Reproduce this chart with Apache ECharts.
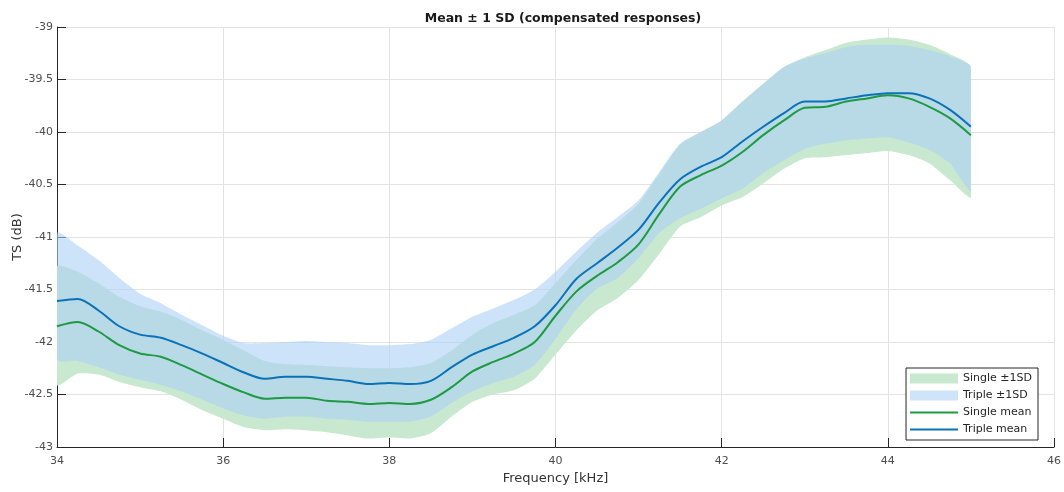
<!DOCTYPE html>
<html>
<head>
<meta charset="utf-8">
<script src="https://cdn.jsdelivr.net/npm/echarts@6/dist/echarts.min.js"></script>
<style>
html,body{margin:0;padding:0;background:#fff;}
#c{width:1064px;height:492px;}
</style>
</head>
<body>
<div id="c"></div>
<script>
// Frequency grid (kHz)
const freq = [34,34.25,34.5,34.75,35,35.25,35.5,35.75,36,36.25,36.5,36.75,37,37.25,37.5,37.75,38,38.25,38.5,38.75,39,39.25,39.5,39.75,40,40.25,40.5,40.75,41,41.25,41.5,41.75,42,42.25,42.5,42.75,43,43.25,43.5,43.75,44,44.25,44.5,44.75,45];

const singleMean = [-41.85,-41.81,-41.90,-42.03,-42.11,-42.14,-42.22,-42.31,-42.40,-42.48,-42.54,-42.53,-42.53,-42.56,-42.57,-42.59,-42.58,-42.59,-42.55,-42.43,-42.28,-42.19,-42.11,-42.00,-41.75,-41.52,-41.37,-41.24,-41.07,-40.78,-40.52,-40.41,-40.32,-40.19,-40.03,-39.89,-39.77,-39.76,-39.71,-39.68,-39.65,-39.68,-39.76,-39.87,-40.03];
const singleUpper = [-41.28,-41.33,-41.44,-41.57,-41.66,-41.71,-41.79,-41.89,-41.98,-42.08,-42.18,-42.21,-42.22,-42.23,-42.24,-42.25,-42.25,-42.24,-42.20,-42.08,-41.93,-41.82,-41.74,-41.65,-41.44,-41.22,-41.02,-40.86,-40.68,-40.40,-40.12,-40.00,-39.89,-39.71,-39.54,-39.38,-39.29,-39.22,-39.15,-39.12,-39.10,-39.12,-39.17,-39.26,-39.38];
const singleLower = [-42.41,-42.30,-42.31,-42.38,-42.43,-42.47,-42.55,-42.65,-42.73,-42.81,-42.84,-42.83,-42.84,-42.86,-42.89,-42.92,-42.91,-42.92,-42.87,-42.71,-42.57,-42.50,-42.46,-42.35,-42.12,-41.89,-41.70,-41.58,-41.41,-41.16,-40.90,-40.81,-40.70,-40.62,-40.49,-40.35,-40.25,-40.24,-40.22,-40.20,-40.18,-40.22,-40.30,-40.46,-40.62];

const tripleMean = [-41.61,-41.59,-41.70,-41.85,-41.93,-41.96,-42.03,-42.11,-42.20,-42.29,-42.35,-42.33,-42.33,-42.35,-42.37,-42.40,-42.39,-42.40,-42.37,-42.24,-42.12,-42.04,-41.96,-41.85,-41.65,-41.40,-41.25,-41.10,-40.93,-40.67,-40.45,-40.33,-40.24,-40.09,-39.95,-39.82,-39.71,-39.71,-39.68,-39.65,-39.63,-39.63,-39.68,-39.79,-39.95];
const tripleUpper = [-40.96,-41.08,-41.22,-41.39,-41.54,-41.63,-41.74,-41.84,-41.94,-42.01,-42.01,-42.00,-41.99,-42.00,-42.01,-42.03,-42.03,-42.02,-41.98,-41.87,-41.76,-41.68,-41.60,-41.50,-41.33,-41.14,-40.96,-40.81,-40.65,-40.38,-40.11,-40.00,-39.89,-39.71,-39.54,-39.38,-39.30,-39.25,-39.19,-39.17,-39.17,-39.18,-39.22,-39.28,-39.38];
const tripleLower = [-42.17,-42.18,-42.24,-42.31,-42.36,-42.41,-42.47,-42.55,-42.63,-42.70,-42.73,-42.71,-42.71,-42.73,-42.74,-42.76,-42.76,-42.76,-42.71,-42.58,-42.47,-42.39,-42.33,-42.22,-41.97,-41.69,-41.49,-41.39,-41.20,-40.96,-40.82,-40.73,-40.63,-40.54,-40.39,-40.27,-40.16,-40.11,-40.08,-40.06,-40.05,-40.10,-40.17,-40.30,-40.56];

const FONT = "'DejaVu Sans', 'Liberation Sans', Arial, sans-serif";
const pts = (ys) => freq.map((f, i) => [f, ys[i]]);
const bandData = (lo, hi) => freq.map((f, i) => [f, lo[i], hi[i]]);

const singleFill = 'rgb(200,232,207)';
const tripleBase = 'rgb(172,208,245)';
const tripleLegend = 'rgb(207,228,248)';
const greenLine = '#1e9a43';
const blueLine = '#0b72b8';
const SM = 0.3;
const lineIcon = 'path://M0,0 L48,0 Z M0,4 L48,4 L48,6 L0,6 Z M0,10 L48,10 Z';

function bandRenderer(fill, opacity) {
  return function (params, api) {
    if (params.dataIndex !== 0) return null;
    const top = [], bot = [];
    for (let i = 0; i < freq.length; i++) {
      top.push(api.coord([api.value(0, i), api.value(2, i)]));
      bot.push(api.coord([api.value(0, i), api.value(1, i)]));
    }
    const points = top.concat(bot.reverse());
    let x0 = Infinity, y0 = Infinity, x1 = -Infinity, y1 = -Infinity;
    points.forEach(p => {
      x0 = Math.min(x0, p[0]); y0 = Math.min(y0, p[1]);
      x1 = Math.max(x1, p[0]); y1 = Math.max(y1, p[1]);
    });
    return {
      type: 'polygon',
      shape: {points: points, smooth: 0.2, smoothConstraint: [[x0, y0], [x1, y1]]},
      style: {fill: fill, opacity: opacity, stroke: null}
    };
  };
}

const chart = echarts.init(document.getElementById('c'), null, {renderer: 'canvas'});
chart.setOption({
  animation: false,
  backgroundColor: '#ffffff',
  textStyle: {fontFamily: FONT},
  title: {
    text: 'Mean \u00b1 1 SD (compensated responses)',
    left: 558, top: 7, textAlign: 'center',
    textStyle: {fontSize: 12.5, fontWeight: 'bold', color: '#1a1a1a', fontFamily: FONT}
  },
  grid: {left: 57, right: 10, top: 27, bottom: 45, containLabel: false, outerBoundsMode: 'none'},
  legend: {
    orient: 'vertical',
    right: 26, bottom: 52,
    backgroundColor: '#ffffff',
    borderColor: '#262626', borderWidth: 1,
    padding: [5, 6, 5, 4],
    itemWidth: 48, itemHeight: 10, itemGap: 6,
    textStyle: {fontSize: 11, color: '#262626', fontFamily: FONT},
    data: [
      {name: 'Single \u00b11SD', icon: 'rect', itemStyle: {color: singleFill, borderWidth: 0}},
      {name: 'Triple \u00b11SD', icon: 'rect', itemStyle: {color: tripleLegend, borderWidth: 0}},
      {name: 'Single mean', icon: lineIcon, itemStyle: {color: greenLine, borderWidth: 0}},
      {name: 'Triple mean', icon: lineIcon, itemStyle: {color: blueLine, borderWidth: 0}}
    ]
  },
  xAxis: {
    type: 'value', min: 34, max: 46, interval: 2,
    name: 'Frequency [kHz]', nameLocation: 'middle', nameGap: 24,
    nameTextStyle: {fontSize: 13, color: '#333333', fontFamily: FONT},
    axisLine: {show: true, onZero: false, lineStyle: {color: '#262626', width: 1}},
    axisTick: {show: true, inside: true, length: 9, lineStyle: {color: '#262626'}},
    axisLabel: {color: '#4d4d4d', fontSize: 11, margin: 9, fontFamily: FONT},
    splitLine: {show: true, lineStyle: {color: '#e3e3e3', width: 1}}
  },
  yAxis: {
    type: 'value', min: -43, max: -39, interval: 0.5,
    name: 'TS (dB)', nameLocation: 'middle', nameGap: 33, nameRotate: 90,
    nameMoveOverlap: false,
    nameTextStyle: {fontSize: 13, color: '#333333', fontFamily: FONT},
    axisLine: {show: true, onZero: false, lineStyle: {color: '#262626', width: 1}},
    axisTick: {show: true, inside: true, length: 9, lineStyle: {color: '#262626'}},
    axisLabel: {color: '#4d4d4d', fontSize: 11, margin: 4, fontFamily: FONT},
    splitLine: {show: true, lineStyle: {color: '#e3e3e3', width: 1}}
  },
  series: [
    {
      name: 'Single \u00b11SD', type: 'custom', data: bandData(singleLower, singleUpper),
      encode: {x: 0, y: [1, 2]}, renderItem: bandRenderer(singleFill, 1),
      itemStyle: {color: singleFill}, clip: true, silent: true, z: 1
    },
    {
      name: 'Triple \u00b11SD', type: 'custom', data: bandData(tripleLower, tripleUpper),
      encode: {x: 0, y: [1, 2]}, renderItem: bandRenderer(tripleBase, 0.6),
      itemStyle: {color: tripleLegend}, clip: true, silent: true, z: 2
    },
    {
      name: 'Single mean', type: 'line', data: pts(singleMean),
      symbol: 'none', showSymbol: false, smooth: SM,
      lineStyle: {color: greenLine, width: 2}, itemStyle: {color: greenLine}, z: 3
    },
    {
      name: 'Triple mean', type: 'line', data: pts(tripleMean),
      symbol: 'none', showSymbol: false, smooth: SM,
      lineStyle: {color: blueLine, width: 2}, itemStyle: {color: blueLine}, z: 4
    }
  ]
});
</script>
</body>
</html>
